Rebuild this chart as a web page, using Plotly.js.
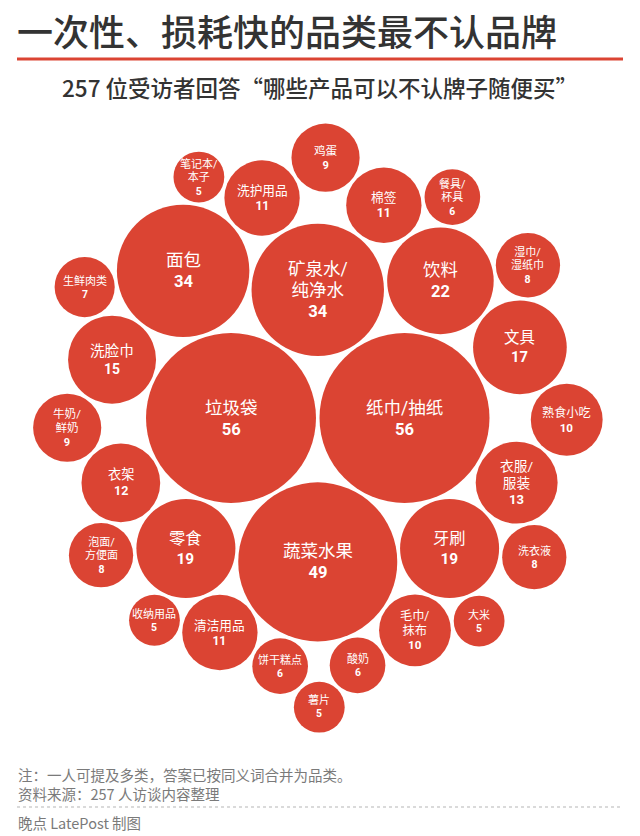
<!DOCTYPE html>
<html><head><meta charset="utf-8">
<script src="https://cdn.plot.ly/plotly-3.0.1.min.js"></script>
<style>html,body{margin:0;padding:0;background:#fff}#chart{width:640px;height:836px}</style>
</head><body><div id="chart"></div>
<script>
// ---- data ----
const categories = ["垃圾袋","纸巾/抽纸","蔬菜水果","矿泉水/纯净水","面包","饮料","牙刷","零食","文具","洗脸巾",
  "衣服/服装","衣架","洗护用品","棉签","清洁用品","熟食小吃","毛巾/抹布","鸡蛋","牛奶/鲜奶","湿巾/湿纸巾",
  "洗衣液","泡面/方便面","生鲜肉类","餐具/杯具","饼干糕点","酸奶","笔记本/本子","收纳用品","大米","薯片"];
const counts = [56,56,49,34,34,22,19,19,17,15,13,12,11,11,11,10,10,9,9,8,8,8,7,6,6,6,5,5,5,5];

const titleText = "一次性、损耗快的品类最不认品牌";
const subtitleText = "257 位受访者回答“哪些产品可以不认牌子随便买”";
const noteLines = ["注：一人可提及多类，答案已按同义词合并为品类。", "资料来源：257 人访谈内容整理"];
const creditText = "晚点 LatePost 制图";

// ---- packing rules (which circles each bubble touches, and on which side) ----
const packing = {
  "纸巾/抽纸": ["垃圾袋", null, "right"],
  "蔬菜水果": ["垃圾袋", "纸巾/抽纸", "down"],
  "矿泉水/纯净水": ["垃圾袋", "纸巾/抽纸", "up"],
  "面包": ["垃圾袋", "矿泉水/纯净水", "left"],
  "饮料": ["纸巾/抽纸", "矿泉水/纯净水", "right"],
  "牙刷": ["纸巾/抽纸", "蔬菜水果", "right"],
  "零食": ["垃圾袋", "蔬菜水果", "left"],
  "文具": ["纸巾/抽纸", "饮料", "right"],
  "洗脸巾": ["垃圾袋", "面包", "left"],
  "衣服/服装": ["纸巾/抽纸", "牙刷", "right"],
  "衣架": ["垃圾袋", "零食", "left"],
  "洗护用品": ["面包", "矿泉水/纯净水", "up"],
  "棉签": ["矿泉水/纯净水", "饮料", "up"],
  "清洁用品": ["零食", "蔬菜水果", "down"],
  "熟食小吃": ["文具", "衣服/服装", "right"],
  "毛巾/抹布": ["蔬菜水果", "牙刷", "down"],
  "鸡蛋": ["洗护用品", "棉签", "up"],
  "牛奶/鲜奶": ["洗脸巾", "衣架", "left"],
  "湿巾/湿纸巾": ["饮料", "文具", "right"],
  "洗衣液": ["牙刷", "衣服/服装", "right"],
  "泡面/方便面": ["零食", "衣架", "left"],
  "生鲜肉类": ["洗脸巾", "面包", "left"],
  "餐具/杯具": ["棉签", "饮料", "right"],
  "饼干糕点": ["蔬菜水果", "清洁用品", "down"],
  "酸奶": ["蔬菜水果", "毛巾/抹布", "down"],
  "笔记本/本子": ["面包", "洗护用品", "up"],
  "收纳用品": ["零食", "清洁用品", "left"],
  "大米": ["牙刷", "毛巾/抹布", "right"],
  "薯片": ["饼干糕点", "酸奶", "down"]
};
const seed = {x: 231, y: 418};   // pixel position of the first bubble
const GAP = 3.5;
const RMAX = 85;                 // radius of the largest bubble in px
const maxCount = Math.max(...counts);
const radius = v => RMAX * Math.sqrt(v / maxCount);

const pos = {};
const rad = {};
categories.forEach((c, i) => rad[c] = radius(counts[i]));
const dirVec = {right: [1, 0], left: [-1, 0], up: [0, -1], down: [0, 1]};
categories.forEach((c, i) => {
  const r = rad[c];
  if (i === 0) { pos[c] = {x: seed.x, y: seed.y}; return; }
  const [a, b, side] = packing[c];
  const A = pos[a], rA = rad[a];
  const dv = dirVec[side];
  if (b === null) {
    const d = rA + r + GAP;
    pos[c] = {x: A.x + dv[0] * d, y: A.y + dv[1] * d};
    return;
  }
  const B = pos[b], rB = rad[b];
  const dA = rA + r + GAP, dB = rB + r + GAP;
  const dx = B.x - A.x, dy = B.y - A.y, d = Math.hypot(dx, dy);
  const ax = (dA * dA - dB * dB + d * d) / (2 * d);
  const h = Math.sqrt(Math.max(0, dA * dA - ax * ax));
  const ux = dx / d, uy = dy / d;
  const px = A.x + ax * ux, py = A.y + ax * uy;
  const c1 = {x: px - h * uy, y: py + h * ux};
  const c2 = {x: px + h * uy, y: py - h * ux};
  const s1 = c1.x * dv[0] + c1.y * dv[1], s2 = c2.x * dv[0] + c2.y * dv[1];
  pos[c] = s1 >= s2 ? c1 : c2;
});

const xs = categories.map(c => pos[c].x);
const ys = categories.map(c => pos[c].y);
const sizes = categories.map(c => 2 * rad[c]);

const RED = "#db4433";
const FONT = "Noto Sans CJK SC";
const LABEL_FONT = "Roboto, Noto Sans CJK SC";

const annotations = [];
categories.forEach((c, i) => {
  const r = rad[c];
  const fs = r >= 32 ? Math.min(17.5, 11 + 0.3 * (r - 32)) : 11;
  const k = c.indexOf("/");
  const nameLines = (r < 70 && k >= 0) ? [c.slice(0, k + 1), c.slice(k + 1)] : [c];
  const sp = (t, s) => '<span style="font-size:' + s.toFixed(1) + 'px">' + t + '</span>';
  const text = nameLines.map(t => sp(t, fs)).join("<br>") + "<br><b>" + sp(String(counts[i]), fs * 0.95) + "</b>";
  annotations.push({
    x: xs[i], y: ys[i], xref: "x", yref: "y",
    text, showarrow: false, xanchor: "center", yanchor: "middle",
    align: "center", borderpad: 0,
    font: {family: LABEL_FONT, size: fs * 0.93, color: "#ffffff"}
  });
});

const W = 640, H = 836;
const py = v => 1 - v / H;
const px = v => v / W;

annotations.push(
  {xref: "paper", yref: "paper", x: px(15), y: py(30), xanchor: "left", yanchor: "middle", showarrow: false,
   text: titleText, font: {family: FONT, size: 36, color: "#333333", weight: 500}},
  {xref: "paper", yref: "paper", x: 0.5, y: py(87), xanchor: "center", yanchor: "middle", showarrow: false,
   text: subtitleText, font: {family: FONT, size: 22.5, color: "#333333", weight: 500}},
  {xref: "paper", yref: "paper", x: px(16), y: py(774), xanchor: "left", yanchor: "middle", showarrow: false,
   text: noteLines[0], font: {family: FONT, size: 14.5, color: "#7a7a7a"}},
  {xref: "paper", yref: "paper", x: px(16), y: py(793), xanchor: "left", yanchor: "middle", showarrow: false,
   text: noteLines[1], font: {family: FONT, size: 14.5, color: "#7a7a7a"}},
  {xref: "paper", yref: "paper", x: px(16), y: py(822), xanchor: "left", yanchor: "middle", showarrow: false,
   text: creditText, font: {family: FONT, size: 14.5, color: "#7a7a7a"}}
);

const shapes = [
  {type: "line", xref: "paper", yref: "paper", x0: px(17), x1: px(623), y0: py(59), y1: py(59),
   line: {color: RED, width: 3}},
  {type: "line", xref: "paper", yref: "paper", x0: px(17), x1: px(623), y0: py(807), y1: py(807),
   line: {color: "#b5b5b5", width: 1, dash: "dot"}}
];

const trace = {
  type: "scatter", mode: "markers", x: xs, y: ys, text: categories, hoverinfo: "text",
  marker: {size: sizes, sizemode: "diameter", color: RED, opacity: 1, line: {width: 0}},
  cliponaxis: false
};

const layout = {
  width: W, height: H, margin: {l: 0, r: 0, t: 0, b: 0},
  paper_bgcolor: "#ffffff", plot_bgcolor: "#ffffff",
  showlegend: false,
  xaxis: {range: [0, W], visible: false, fixedrange: true},
  yaxis: {range: [H, 0], visible: false, fixedrange: true},
  annotations, shapes
};
Plotly.newPlot("chart", [trace], layout, {staticPlot: true, displayModeBar: false});
</script>
</body></html>
